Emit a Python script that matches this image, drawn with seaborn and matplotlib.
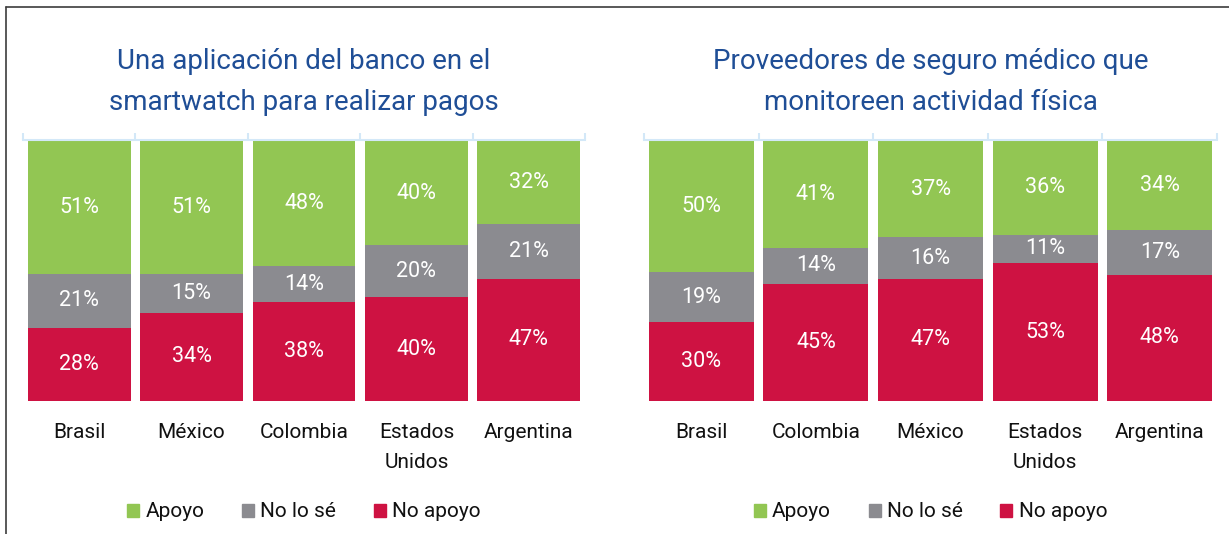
import matplotlib.pyplot as plt
import numpy as np
import pandas as pd
import seaborn as sns
from matplotlib.lines import Line2D
from matplotlib.patches import Patch

# data
left_title = "Una aplicación del banco en el\nsmartwatch para realizar pagos"
left_countries = ["Brasil", "México", "Colombia", "Estados\nUnidos", "Argentina"]
left_apoyo = [51, 51, 48, 40, 32]
left_nose = [21, 15, 14, 20, 21]
left_noapoyo = [28, 34, 38, 40, 47]

right_title = "Proveedores de seguro médico que\nmonitoreen actividad física"
right_countries = ["Brasil", "Colombia", "México", "Estados\nUnidos", "Argentina"]
right_apoyo = [50, 41, 37, 36, 34]
right_nose = [19, 14, 16, 11, 17]
right_noapoyo = [30, 45, 47, 53, 48]

series_names = ["Apoyo", "No lo sé", "No apoyo"]
colors = ["#92C653", "#8B8B90", "#CE1242"]
title_color = "#1F4E96"
axis_color = "#D3E8F8"

sns.set_theme(style="white")
plt.rcParams["font.family"] = ["Liberation Sans Narrow", "Roboto", "DejaVu Sans"]


def draw_panel(ax, title, countries, apoyo, nose, noapoyo):
    df = pd.DataFrame({"pais": countries, "Apoyo": apoyo,
                       "No lo sé": nose, "No apoyo": noapoyo})
    total = df[series_names].sum(axis=1)
    share = df[series_names].div(total, axis=0) * 100

    # overlapping cumulative bars -> stacked look
    tops = [share.sum(axis=1), share["No lo sé"] + share["No apoyo"], share["No apoyo"]]
    for top, c in zip(tops, colors):
        sns.barplot(x=df["pais"], y=top, color=c, saturation=1, width=0.916,
                    order=countries, linewidth=0, ax=ax)

    for i in range(len(df)):
        bottom = 0
        for name in ["No apoyo", "No lo sé", "Apoyo"]:
            h = share[name].iloc[i]
            ax.text(i, bottom + h / 2, f"{df[name].iloc[i]}%", ha="center", va="center",
                    color="white", fontsize=15.5)
            bottom += h

    ax.set_xlim(-0.5, len(df) - 0.5)
    ax.set_ylim(0, 100.4)
    ax.set(xlabel="", ylabel="", yticks=[])
    for side in ["left", "right", "bottom"]:
        ax.spines[side].set_visible(False)
    ax.spines["top"].set_color(axis_color)
    ax.spines["top"].set_linewidth(1.5)
    ax.set_xticks(np.arange(-0.5, len(df)), minor=True)
    ax.tick_params(axis="x", which="major", length=0, pad=16, labelsize=15, labelcolor="#111111")
    ax.tick_params(axis="x", which="minor", bottom=False, top=True, direction="out",
                   length=5, width=1.5, color=axis_color)
    for lbl in ax.get_xticklabels():
        lbl.set_linespacing(1.75)

    handles = [Patch(color=c) for c in colors]
    ax.legend(handles, series_names, loc="center", bbox_to_anchor=(0.5, -0.425), ncol=3,
              frameon=False, fontsize=15, handlelength=0.58, handleheight=0.58,
              handletextpad=0.3, columnspacing=1.8, labelcolor="#111111")

    box = ax.get_position()
    fig.text(box.x0 + box.width / 2, 424 / 534, title, ha="center", va="baseline",
             fontsize=20, color=title_color, linespacing=1.65)


fig = plt.figure(figsize=(12.29, 5.34), dpi=100)
ax1 = fig.add_axes([23 / 1229, 133 / 534, 562 / 1229, 261 / 534])
ax2 = fig.add_axes([644 / 1229, 133 / 534, 573 / 1229, 261 / 534])

draw_panel(ax1, left_title, left_countries, left_apoyo, left_nose, left_noapoyo)
draw_panel(ax2, right_title, right_countries, right_apoyo, right_nose, right_noapoyo)

# frame lines at top and left
fig.add_artist(Line2D([5.5 / 1229, 1], [1 - 7 / 534, 1 - 7 / 534], color="#3c3c3c", lw=1.2))
fig.add_artist(Line2D([5.5 / 1229, 5.5 / 1229], [0, 1 - 7 / 534], color="#3c3c3c", lw=1.2))

fig.savefig("out.png", dpi=100)
